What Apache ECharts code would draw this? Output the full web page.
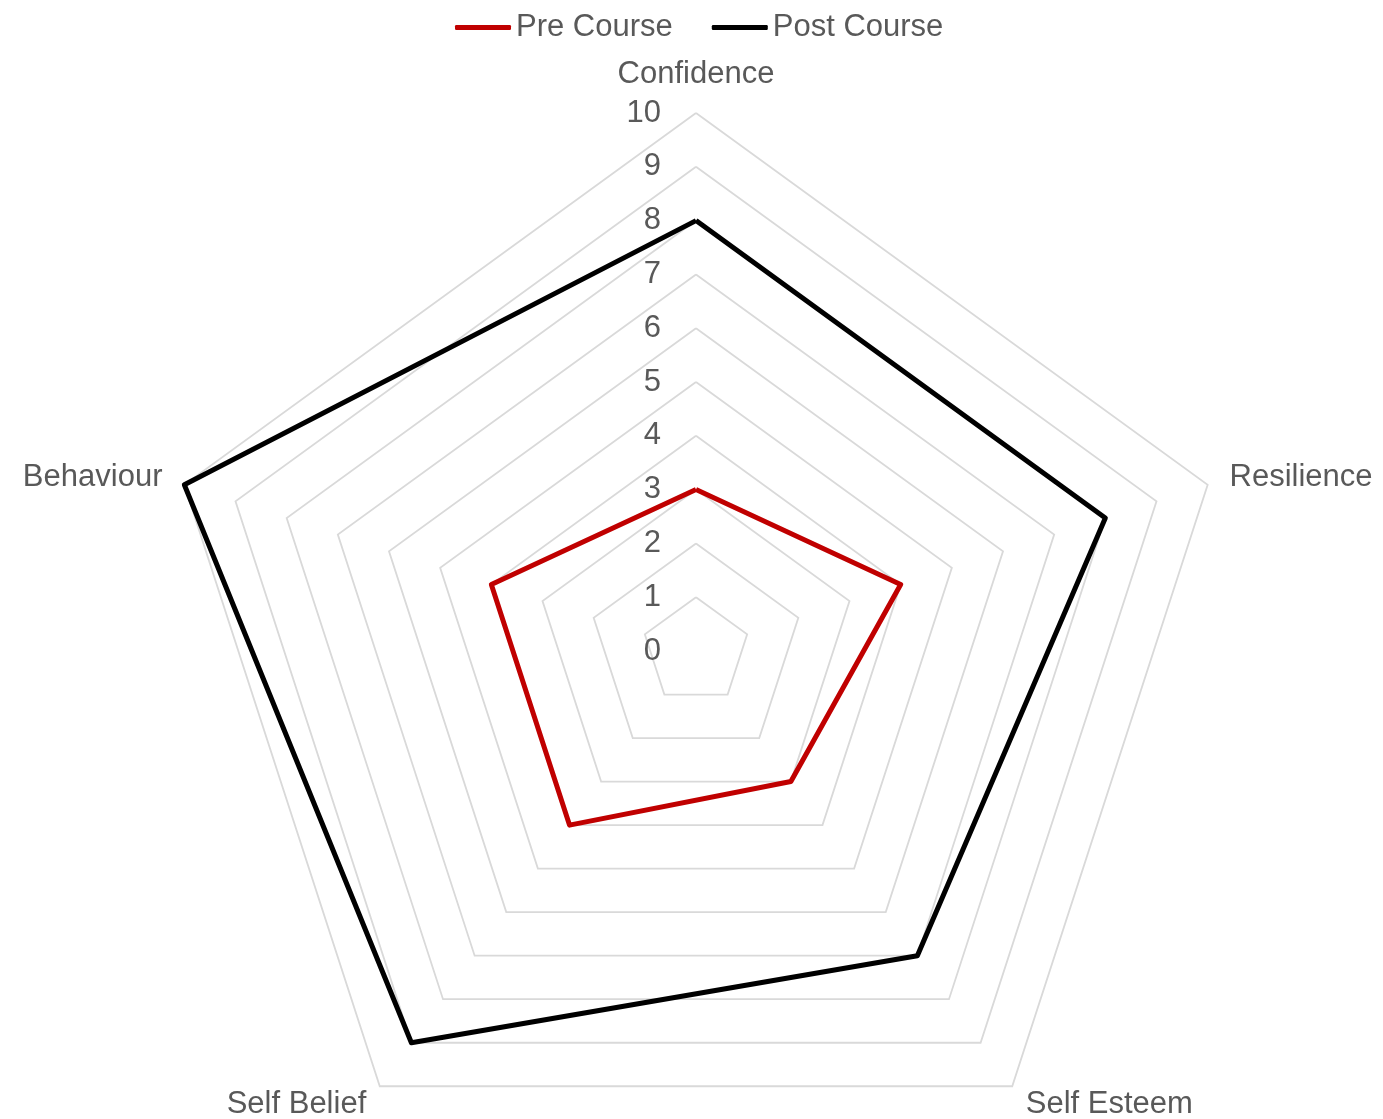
<!DOCTYPE html>
<html>
<head>
<meta charset="utf-8">
<script src="https://cdn.jsdelivr.net/npm/echarts@6/dist/echarts.min.js"></script>
<style>
  html, body { margin: 0; padding: 0; background: #fff; }
  #main { width: 1383px; height: 1119px; }
</style>
</head>
<body>
<div id="main"></div>
<script>
// chart data (clockwise order from the top)
var indicators = ['Confidence', 'Resilience', 'Self Esteem', 'Self Belief', 'Behaviour'];
var seriesNames = ['Pre Course', 'Post Course'];
var preCourse = [3, 4, 3, 4, 4];
var postCourse = [8, 8, 7, 9, 10];
var scaleMax = 10;

var textGrey = '#595959';
var fontFam = 'Liberation Sans, Arial, sans-serif';

// echarts radar runs counter-clockwise, so keep the first axis and flip the rest
var order = [0, 4, 3, 2, 1];
function reorder(arr) {
  return order.map(function (i) { return arr[i]; });
}

var chart = echarts.init(document.getElementById('main'));

var indicatorList = reorder(indicators).map(function (name, i) {
  var item = { name: name, max: scaleMax, min: 0 };
  if (i === 0) {
    // only the top axis carries the numbers
    item.axisLabel = {
      show: true,
      color: textGrey,
      fontSize: 31,
      fontFamily: fontFam,
      margin: 35
    };
  }
  return item;
});

var option = {
  animation: false,
  color: ['#C00000', '#000000'],
  legend: {
    data: seriesNames,
    left: 450,
    top: 7,
    itemWidth: 56,
    itemHeight: 5,
    itemGap: 39,
    icon: 'roundRect',
    textStyle: {
      color: textGrey,
      fontSize: 31,
      fontFamily: fontFam
    }
  },
  radar: {
    center: [696, 651],
    radius: 538,
    startAngle: 90,
    shape: 'polygon',
    splitNumber: 10,
    nameGap: 23,
    axisName: {
      color: textGrey,
      fontSize: 31,
      fontFamily: fontFam
    },
    axisLine: { show: false },
    axisTick: { show: false },
    axisLabel: { show: false },
    splitArea: { show: false },
    splitLine: {
      lineStyle: { color: '#d9d9d9', width: 1.8 }
    },
    indicator: indicatorList
  },
  series: [
    {
      type: 'radar',
      symbol: 'none',
      data: [
        {
          name: seriesNames[0],
          value: reorder(preCourse),
          lineStyle: { color: '#C00000', width: 5 },
          itemStyle: { color: '#C00000' }
        },
        {
          name: seriesNames[1],
          value: reorder(postCourse),
          lineStyle: { color: '#000000', width: 5 },
          itemStyle: { color: '#000000' }
        }
      ]
    }
  ]
};

chart.setOption(option);
</script>
</body>
</html>
